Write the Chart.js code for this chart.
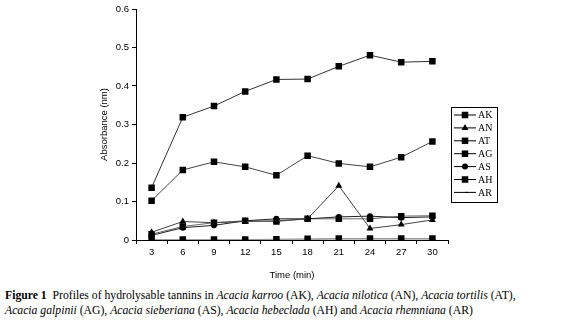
<!DOCTYPE html>
<html lang="en">
<head>
  <meta charset="UTF-8">
  <title>Hydrolysable tannins</title>
  <script src="https://cdn.jsdelivr.net/npm/chart.js"></script>
  <style>
    body { margin: 0; background: #fff; }
    #caption {
      font-family: "Liberation Serif", "Times New Roman", serif;
      font-size: 11.7px; line-height: 15px; color: #000;
      margin: 3px 0 0 5px; width: 560px;
    }
  </style>
</head>
<body>
<canvas id="tanninChart" width="564" height="285"></canvas>
<div id="caption"><b>Figure 1</b>&nbsp; Profiles of hydrolysable tannins in <i>Acacia karroo</i> (AK), <i>Acacia nilotica</i> (AN), <i>Acacia tortilis</i> (AT),<br><i>Acacia galpinii</i> (AG), <i>Acacia sieberiana</i> (AS), <i>Acacia hebeclada</i> (AH) and <i>Acacia rhemniana</i> (AR)</div>

<script>
  // time points (min)
  const times = ['3', '6', '9', '12', '15', '18', '21', '24', '27', '30'];
  const yTicks = [0, 0.1, 0.2, 0.3, 0.4, 0.5, 0.6];

  // absorbance
  const akValues = [0.136, 0.319, 0.348, 0.386, 0.417, 0.418, 0.451, 0.480, 0.462, 0.464];
  const anValues = [0.020, 0.048, 0.045, 0.048, 0.050, 0.055, 0.141, 0.030, 0.040, 0.052];
  const atValues = [0.102, 0.182, 0.203, 0.190, 0.168, 0.219, 0.199, 0.190, 0.215, 0.256];
  const agValues = [0.001, 0.001, 0.001, 0.001, 0.002, 0.003, 0.004, 0.004, 0.004, 0.004];
  const asValues = [0.012, 0.032, 0.038, 0.050, 0.055, 0.055, 0.060, 0.062, 0.058, 0.060];
  const ahValues = [0.015, 0.035, 0.045, 0.050, 0.048, 0.055, 0.055, 0.055, 0.062, 0.063];
  const arValues = [0.000, 0.000, 0.000, 0.001, 0.001, 0.001, 0.002, 0.002, 0.002, 0.002];

  function series(label, data, lineColor, style, radius) {
    return {
      label: label,
      data: data,
      borderColor: lineColor,
      borderWidth: 1,
      pointStyle: style,
      pointRadius: radius,
      pointBackgroundColor: '#000',
      pointBorderColor: '#000',
      pointBorderWidth: style === 'dash' ? 1.5 : 0,
      tension: 0,
      fill: false
    };
  }

  // legend drawn in a box like the original figure
  const boxLegend = {
    id: 'boxLegend',
    afterDraw(chart) {
      const ctx = chart.ctx;
      const x0 = 451, y0 = 107, w = 46, h = 95;
      ctx.save();
      ctx.strokeStyle = '#000';
      ctx.lineWidth = 1;
      ctx.strokeRect(x0 + 0.5, y0 + 0.5, w, h);
      ctx.font = '10px "Liberation Serif", serif';
      ctx.textBaseline = 'middle';
      chart.data.datasets.forEach((ds, i) => {
        const y = y0 + 8 + i * 12.9;
        ctx.strokeStyle = '#000';
        ctx.lineWidth = 1;
        ctx.beginPath();
        ctx.moveTo(454, y);
        ctx.lineTo(476, y);
        ctx.stroke();
        Chart.helpers.drawPoint(ctx, {
          pointStyle: ds.pointStyle,
          radius: ds.pointStyle === 'dash' ? 3 : ds.pointRadius,
          borderWidth: ds.pointBorderWidth,
          rotation: 0
        }, 465, y);
        ctx.fillStyle = '#000';
        ctx.fillText(ds.label, 478, y + 0.5);
      });
      ctx.restore();
    }
  };

  const ctx = document.getElementById('tanninChart').getContext('2d');
  const tanninChart = new Chart(ctx, {
    type: 'line',
    data: {
      labels: times,
      datasets: [
        series('AK', akValues, '#333', 'rect', 4.6),
        series('AN', anValues, '#444', 'triangle', 4),
        series('AT', atValues, '#444', 'rect', 4.6),
        series('AG', agValues, '#999', 'rect', 4.6),
        series('AS', asValues, '#222', 'circle', 3),
        series('AH', ahValues, '#666', 'rect', 4.6),
        series('AR', arValues, '#aaa', 'dash', 3)
      ]
    },
    options: {
      responsive: false,
      animation: false,
      layout: { padding: { left: 95, right: 116, top: 9, bottom: 0 } },
      plugins: {
        legend: { display: false },
        tooltip: { enabled: false }
      },
      scales: {
        x: {
          offset: true,
          grid: { offset: true, drawOnChartArea: false, color: '#000', tickLength: 4 },
          border: { color: '#000', width: 1 },
          ticks: { color: '#000', padding: 3, maxRotation: 0, font: { family: '"Liberation Sans", Arial', size: 9.5 } },
          title: { display: true, text: 'Time (min)', color: '#000', padding: { top: 6 }, font: { family: '"Liberation Sans", Arial', size: 9.5 } },
          afterFit(scale) { scale.height = 45; }
        },
        y: {
          min: 0,
          max: 0.6,
          afterBuildTicks(scale) { scale.ticks = yTicks.map(v => ({ value: v })); },
          grid: { drawOnChartArea: false, color: '#000', tickLength: 4 },
          border: { color: '#000', width: 1 },
          ticks: { color: '#000', padding: 3, font: { family: '"Liberation Sans", Arial', size: 9.5 },
                   callback: v => String(v) },
          title: { display: true, text: 'Absorbance (nm)', color: '#000', padding: { top: 4 }, font: { family: '"Liberation Sans", Arial', size: 9.5 } },
          afterFit(scale) { scale.width = 41; }
        }
      }
    },
    plugins: [boxLegend]
  });
</script>
</body>
</html>
